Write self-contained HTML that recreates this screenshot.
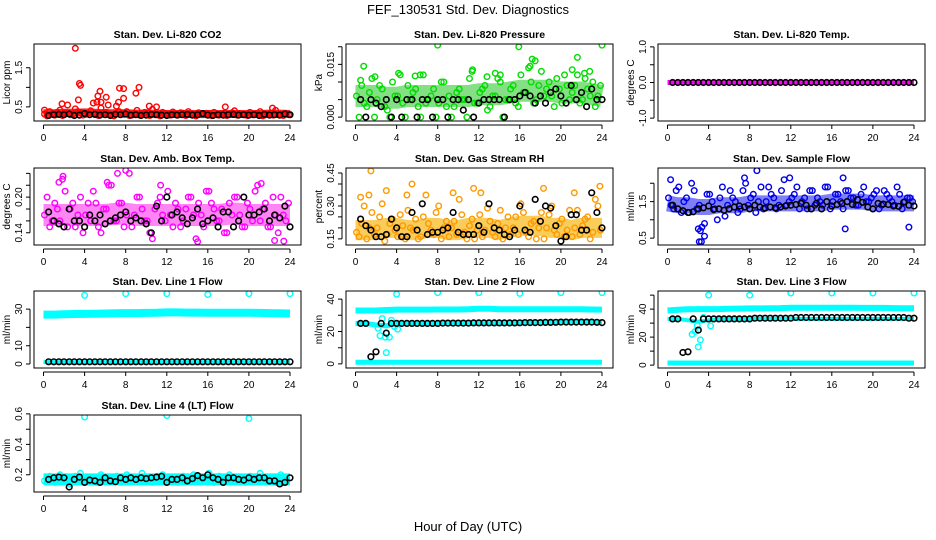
<!DOCTYPE html>
<html><head><meta charset="utf-8">
<style>
html,body{margin:0;padding:0;background:#fff;}
svg{display:block;font-family:"Liberation Sans",Arial,sans-serif;}
</style></head>
<body>
<svg id="chart" width="936" height="540" viewBox="0 0 936 540">
<text x="468" y="14" text-anchor="middle" font-size="13">FEF_130531  Std. Dev. Diagnostics</text>
<text x="468" y="531" text-anchor="middle" font-size="13">Hour of Day (UTC)</text>
</svg>
<script>
// ---- shared hour arrays ----
const hoursA = [0.1,0.6,1.1,1.6,2.1,2.6,3.1,3.6,4.1,4.6,5.1,5.6,6.1,6.6,7.1,7.6,8.1,8.6,9.1,9.6,10.1,10.6,11.1,11.6,12.1,12.6,13.1,13.6,14.1,14.6,15.1,15.6,16.1,16.6,17.1,17.6,18.1,18.6,19.1,19.6,20.1,20.6,21.1,21.6,22.1,22.6,23.1,23.6];
const hoursB = [0.35,0.85,1.35,1.85,2.35,2.85,3.35,3.85,4.35,4.85,5.35,5.85,6.35,6.85,7.35,7.85,8.35,8.85,9.35,9.85,10.35,10.85,11.35,11.85,12.35,12.85,13.35,13.85,14.35,14.85,15.35,15.85,16.35,16.85,17.35,17.85,18.35,18.85,19.35,19.85,20.35,20.85,21.35,21.85,22.35,22.85,23.35,23.85];
const hoursK = [0.5,1,1.5,2,2.5,3,3.5,4,4.5,5,5.5,6,6.5,7,7.5,8,8.5,9,9.5,10,10.5,11,11.5,12,12.5,13,13.5,14,14.5,15,15.5,16,16.5,17,17.5,18,18.5,19,19.5,20,20.5,21,21.5,22,22.5,23,23.5,24];
const hoursBand = [0,1,2,3,4,5,6,7,8,9,10,11,12,13,14,15,16,17,18,19,20,21,22,23,24];
const xTicks = [0,4,8,12,16,20,24];

// ---- CO2 ----
const co2A = [0.32,0.38,0.29,0.42,0.35,0.3,0.45,0.36,0.31,0.4,0.33,0.47,0.36,0.3,0.52,0.34,0.38,0.29,0.41,0.33,0.35,0.44,0.3,0.36,0.32,0.37,0.29,0.34,0.38,0.31,0.35,0.3,0.33,0.36,0.29,0.34,0.31,0.4,0.33,0.3,0.36,0.32,0.38,0.3,0.34,0.41,0.31,0.33];
const co2B = [0.27,0.33,0.36,0.28,0.55,0.31,0.38,0.29,0.34,0.6,0.28,0.35,0.3,0.27,0.38,0.31,0.28,0.33,0.29,0.36,0.28,0.3,0.27,0.33,0.29,0.31,0.35,0.28,0.32,0.27,0.3,0.34,0.28,0.3,0.32,0.28,0.35,0.29,0.31,0.28,0.3,0.33,0.27,0.32,0.29,0.3,0.28,0.3];
const co2K = [0.28,0.3,0.31,0.3,0.32,0.28,0.29,0.33,0.3,0.31,0.29,0.3,0.28,0.31,0.3,0.32,0.29,0.3,0.28,0.29,0.31,0.3,0.29,0.28,0.3,0.29,0.3,0.31,0.29,0.3,0.33,0.29,0.28,0.3,0.29,0.3,0.31,0.29,0.3,0.29,0.3,0.28,0.31,0.29,0.3,0.29,0.32,0.3];
const co2Band = [0.34,0.34,0.35,0.35,0.36,0.35,0.34,0.34,0.34,0.33,0.33,0.33,0.32,0.32,0.32,0.32,0.32,0.32,0.32,0.32,0.32,0.32,0.33,0.33,0.32];
const co2OutX = [3.1,3.5,3.6,3.4,5.3,5.5,5.2,5.6,6.1,6.3,7.4,7.8,7.8,7.3,9.0,9.3,10.3,11.0,1.8,17.7,22.3,0.1];
const co2OutY = [2.0,1.1,1.05,0.68,0.78,0.9,0.62,0.62,0.75,0.55,0.98,0.97,0.72,0.62,0.85,1.0,0.52,0.5,0.58,0.5,0.47,0.42];

// ---- Pressure ----
const prA = [0.006,0.009,0.003,0.011,0.005,0.008,0.002,0.01,0.006,0.004,0.009,0.007,0.003,0.012,0.005,0.008,0.004,0.01,0.006,0.003,0.008,0.005,0.011,0.004,0.007,0.009,0.003,0.006,0.01,0.005,0.008,0.004,0.012,0.007,0.01,0.005,0.013,0.008,0.006,0.011,0.004,0.009,0.007,0.012,0.005,0.008,0.01,0.006];
const prB = [0,0.004,0.007,0,0.009,0.003,0,0.006,0.012,0,0.005,0.008,0,0.004,0.006,0,0.01,0.003,0,0.007,0.005,0,0.013,0.004,0.008,0.002,0.006,0.011,0,0.005,0.009,0.003,0.007,0.014,0.004,0.009,0.006,0.01,0.003,0.008,0.012,0.005,0.009,0.004,0.011,0.006,0.003,0.009];
const prK = [0.005,0,0.005,0.004,0.003,0.005,0,0.005,0,0.005,0.005,0,0.005,0.005,0,0.005,0.005,0,0.005,0.005,0.002,0.005,0,0.004,0.005,0.005,0.005,0.005,0,0.005,0.005,0.006,0.007,0.006,0.004,0.006,0.004,0.007,0.008,0.006,0.004,0.009,0.005,0.007,0.003,0.008,0.005,0.005];
const prBand = [0.006,0.006,0.006,0.0055,0.0055,0.006,0.006,0.006,0.006,0.006,0.006,0.006,0.0065,0.0065,0.0065,0.007,0.0075,0.0075,0.0075,0.0075,0.007,0.007,0.007,0.0065,0.006];
const prOutX = [0.8,0.5,1.9,4.2,5.8,6.3,8,11.4,12.8,13.6,14.1,15.9,17.0,17.2,17.5,21.1,21.6,22.3,22.8,24];
const prOutY = [0.0145,0.0105,0.0115,0.0125,0.0117,0.012,0.0205,0.0135,0.0115,0.0125,0.012,0.02,0.0145,0.0165,0.016,0.0135,0.017,0.0125,0.013,0.0205];

// ---- Li-820 Temp ----
const tmpK = [0,0,0,0,0,0,0,0,0,0,0,0,0,0,0,0,0,0,0,0,0,0,0,0,0,0,0,0,0,0,0,0,0,0,0,0,0,0,0,0,0,0,0,0,0,0,0,0];
const tmpBand = [0,0,0,0,0,0,0,0,0,0,0,0,0,0,0,0,0,0,0,0,0,0,0,0,0];

// ---- Amb Box Temp ----
const ambA = [0.17,0.15,0.19,0.16,0.21,0.18,0.15,0.2,0.17,0.16,0.19,0.14,0.18,0.22,0.16,0.19,0.17,0.15,0.2,0.18,0.16,0.13,0.19,0.17,0.21,0.15,0.18,0.16,0.2,0.17,0.19,0.15,0.21,0.18,0.16,0.14,0.19,0.2,0.17,0.15,0.18,0.21,0.16,0.19,0.15,0.17,0.2,0.16];
const ambB = [0.2,0.16,0.18,0.23,0.15,0.19,0.17,0.14,0.19,0.21,0.15,0.18,0.22,0.16,0.19,0.15,0.24,0.17,0.2,0.16,0.14,0.18,0.2,0.16,0.17,0.19,0.15,0.18,0.2,0.13,0.17,0.21,0.19,0.16,0.18,0.14,0.17,0.2,0.15,0.19,0.16,0.22,0.18,0.15,0.2,0.14,0.17,0.19];
const ambK = [0.175,0.16,0.155,0.15,0.18,0.16,0.16,0.15,0.17,0.16,0.17,0.155,0.16,0.165,0.17,0.175,0.16,0.165,0.16,0.155,0.14,0.185,0.16,0.2,0.17,0.175,0.165,0.155,0.165,0.18,0.155,0.16,0.165,0.15,0.175,0.175,0.15,0.16,0.2,0.17,0.17,0.175,0.18,0.16,0.17,0.165,0.185,0.15];
const ambBand = [0.17,0.17,0.17,0.17,0.17,0.17,0.17,0.172,0.172,0.17,0.17,0.17,0.17,0.17,0.17,0.17,0.17,0.17,0.172,0.172,0.17,0.17,0.17,0.17,0.17];
const ambOutX = [1.9,8,7.2,15,22.5,23.4,21.2,1.5,6.2,11.4];
const ambOutY = [0.235,0.245,0.24,0.125,0.127,0.126,0.223,0.225,0.225,0.22];

// ---- Gas Stream RH ----
const rhA = [0.18,0.22,0.15,0.27,0.2,0.31,0.17,0.24,0.16,0.21,0.28,0.19,0.15,0.25,0.22,0.17,0.3,0.2,0.16,0.23,0.33,0.18,0.21,0.15,0.26,0.19,0.23,0.16,0.28,0.2,0.17,0.25,0.31,0.18,0.22,0.15,0.27,0.2,0.3,0.17,0.24,0.19,0.16,0.28,0.21,0.25,0.18,0.3];
const rhB = [0.16,0.3,0.2,0.17,0.25,0.14,0.22,0.19,0.26,0.15,0.2,0.24,0.16,0.35,0.19,0.27,0.15,0.23,0.2,0.17,0.26,0.15,0.24,0.19,0.16,0.29,0.18,0.22,0.15,0.25,0.2,0.17,0.27,0.16,0.23,0.2,0.15,0.26,0.19,0.22,0.16,0.28,0.2,0.17,0.24,0.15,0.33,0.19];
const rhK = [0.24,0.21,0.19,0.16,0.16,0.17,0.24,0.2,0.16,0.16,0.27,0.19,0.31,0.17,0.18,0.18,0.19,0.2,0.27,0.18,0.17,0.17,0.17,0.21,0.18,0.31,0.2,0.19,0.17,0.16,0.19,0.3,0.19,0.18,0.33,0.23,0.3,0.29,0.21,0.14,0.16,0.26,0.26,0.19,0.19,0.36,0.27,0.2];
const rhBand = [0.19,0.19,0.19,0.2,0.2,0.19,0.19,0.2,0.2,0.19,0.19,0.2,0.2,0.2,0.19,0.2,0.21,0.21,0.21,0.2,0.2,0.19,0.2,0.2,0.2];
const rhOutX = [1.5,1.3,0.5,5.5,5.0,9.5,11.5,12.2,18.3,21.3,23.8,3.0];
const rhOutY = [0.46,0.35,0.34,0.4,0.35,0.36,0.38,0.36,0.38,0.36,0.39,0.37];

// ---- Sample Flow ----
const sfA = [1.6,1.3,1.9,1.5,1.2,1.8,1.4,0.9,1.7,1.3,1.6,1.1,1.8,1.5,1.3,2.0,1.6,1.2,1.9,1.5,1.7,1.3,1.8,1.4,1.6,1.9,1.5,1.3,1.8,1.6,1.4,1.9,1.5,1.7,1.3,1.8,1.6,1.4,1.9,1.5,1.7,1.3,1.8,1.6,1.4,1.7,1.5,1.6];
const sfB = [1.4,1.8,1.2,1.6,2.0,1.3,0.8,1.7,1.5,1.0,1.9,1.4,1.6,1.2,1.8,1.4,1.7,1.5,1.3,1.9,1.6,1.4,2.1,1.5,1.7,1.3,1.6,1.8,1.4,1.5,1.9,1.3,1.7,1.5,1.8,1.6,1.4,1.7,1.5,1.6,1.8,1.4,1.7,1.5,1.9,1.3,1.6,1.5];
const sfK = [1.4,1.3,1.25,1.2,1.22,1.3,1.33,1.38,1.28,1.3,1.26,1.3,1.35,1.38,1.35,1.3,1.4,1.35,1.32,1.35,1.33,1.35,1.38,1.4,1.42,1.45,1.4,1.3,1.45,1.3,1.5,1.38,1.42,1.45,1.5,1.42,1.55,1.48,1.35,1.3,1.45,1.43,1.42,1.38,1.37,1.48,1.4,1.38];
const sfBand = [1.45,1.4,1.4,1.35,1.35,1.4,1.4,1.4,1.45,1.45,1.45,1.45,1.45,1.45,1.45,1.45,1.5,1.5,1.5,1.5,1.45,1.45,1.45,1.45,1.45];
const sfOutX = [3.1,3.3,3.0,3.2,3.6,8.7,7.5,11.9,17.1,17.3,23.5,0.3];
const sfOutY = [0.4,0.4,0.75,0.7,0.55,2.35,2.15,2.15,2.15,0.75,0.8,2.1];

// ---- Line 1 ----
const l1BandHi = [27,27,27.2,27.3,27.4,27.5,27.6,27.7,27.8,27.8,27.9,28,28.2,28.2,28.1,28.1,28,28,28,28,28,27.9,27.8,27.7,27.6];
const l1BandLo = [1,1,1,1,1,1,1,1,1,1,1,1,1,1,1,1,1,1,1,1,1,1,1,1,1];
const l1K = [1.2,1.2,1.2,1.2,1.2,1.2,1.2,1.2,1.2,1.2,1.2,1.2,1.2,1.2,1.2,1.2,1.2,1.2,1.2,1.2,1.2,1.2,1.2,1.2,1.2,1.2,1.2,1.2,1.2,1.2,1.2,1.2,1.2,1.2,1.2,1.2,1.2,1.2,1.2,1.2,1.2,1.2,1.2,1.2,1.2,1.2,1.2,1.2];
const l1OutX = [4,8,12,16,20,24];
const l1OutY = [37.5,38.5,38.5,38,38.5,38.5];

// ---- Line 2 ----
const l2BandHi = [33,33,33,33.3,33.5,33.5,33.5,33.5,33.6,33.6,33.6,33.7,34,34,33.8,33.7,33.8,33.8,33.8,33.8,33.8,33.8,33.7,33.6,33.5];
const l2BandMid = [25,25,24,23.5,25,25,25,25,25,25,25,25,25.3,25.3,25.3,25.4,25.5,25.5,25.6,25.8,26,26,26,26,25.8];
const l2BandLo = [1,1,1,1,1,1,1,1,1,1,1,1,1,1,1,1,1,1,1,1,1,1,1,1,1];
const l2K = [25,25,4.5,7.5,25,19,25,25,25,25,25,25,25,25,25,25,25.2,25.2,25.2,25.2,25.2,25.2,25.3,25.3,25.3,25.3,25.3,25.3,25.3,25.3,25.3,25.4,25.5,25.5,25.5,25.5,25.6,25.6,25.7,25.8,25.8,25.8,25.8,25.8,25.8,25.8,25.7,25.5];
const l2OutX = [2.4,2.6,2.9,3.0,3.3,3.5,4.1,2.2,3.8,4,8,12,16,20,24];
const l2OutY = [17.5,28,16.5,7,16.5,27,21.5,22,23,43,44,44,43.5,44,44];

// ---- Line 3 ----
const l3BandHi = [39,39.5,39.8,40,40,40,40.2,40.3,40.5,40.5,40.6,40.7,41,41,41,41,41,41,41,40.8,40.8,40.8,40.7,40.6,40.6];
const l3BandMid = [33,33,32,31,32,33,33,33,33,33,33,33,33,33,33,33,33,33,33,33,33,33,33,33,33];
const l3BandLo = [1.5,1.5,1.5,1.5,1.5,1.5,1.5,1.5,1.5,1.5,1.5,1.5,1.5,1.5,1.5,1.5,1.5,1.5,1.5,1.5,1.5,1.5,1.5,1.5,1.5];
const l3K = [33,33,9,9.5,33,25,33,33,33,33,33,33,33,33,33,33,33.5,33.5,33.5,33.5,33.5,33.5,33.5,33.5,34,34,34,34,34,34,34,34,34,34,34,34,34,34,34,34,34,34,34,34,34,34,33.5,33.5];
const l3OutX = [2.4,2.7,3.0,3.2,2.9,3.5,4.2,4,8,12,16,20,24];
const l3OutY = [22,24,13,18,28,34,28,50,50,51.5,51.5,51.5,51.5];

// ---- Line 4 ----
const l4A = [0.16,0.19,0.15,0.2,0.17,0.14,0.19,0.21,0.16,0.18,0.15,0.2,0.17,0.16,0.19,0.15,0.2,0.18,0.16,0.21,0.17,0.15,0.19,0.2,0.16,0.18,0.15,0.19,0.17,0.2,0.16,0.18,0.21,0.15,0.19,0.17,0.2,0.16,0.18,0.15,0.19,0.17,0.21,0.16,0.18,0.15,0.2,0.17];
const l4K = [0.17,0.18,0.185,0.18,0.12,0.17,0.185,0.15,0.165,0.16,0.15,0.18,0.16,0.155,0.18,0.17,0.18,0.17,0.18,0.175,0.18,0.185,0.19,0.15,0.17,0.17,0.18,0.16,0.175,0.195,0.18,0.2,0.18,0.17,0.15,0.18,0.18,0.17,0.165,0.18,0.17,0.18,0.18,0.16,0.16,0.14,0.15,0.18];
const l4Band = [0.17,0.17,0.17,0.17,0.17,0.17,0.17,0.17,0.17,0.17,0.17,0.17,0.17,0.17,0.17,0.17,0.17,0.17,0.17,0.17,0.17,0.17,0.17,0.17,0.17];
const l4OutX = [4,12,20];
const l4OutY = [0.58,0.59,0.57];

// ---- panel definitions ----
const panels = [
 {name:'co2', title:'Stan. Dev. Li-820 CO2', ylab:'Licor ppm', col:0,row:0, ymin:0.14, ymax:2.11, ticks:[0.5,1.0,1.5], labs:[0.5,1.5], fmt:1, color:'#ff0000', bandColor:'#ff0000', bandOp:0.85,
  bands:[[co2Band,8]], pts:[[hoursA,co2A],[hoursB,co2B],[co2OutX,co2OutY]], blk:co2K},
 {name:'pressure', title:'Stan. Dev. Li-820 Pressure', ylab:'kPa', col:1,row:0, ymin:-0.0011, ymax:0.0208, ticks:[0,0.005,0.01,0.015,0.02], labs:[0,0.015], fmt:3, color:'#00dd00', bandColor:'#33cc33', bandOp:0.6,
  bands:[[prBand,22]], pts:[[hoursA,prA],[hoursB,prB],[prOutX,prOutY]], blk:prK},
 {name:'li820-temp', title:'Stan. Dev. Li-820 Temp.', ylab:'degrees C', col:2,row:0, ymin:-1.08, ymax:1.08, ticks:[-1,-0.5,0,0.5,1], labs:[-1,0,1], fmt:1, color:'#ff00ff', bandColor:'#ff00ff', bandOp:1,
  bands:[[tmpBand,5]], pts:[], blk:tmpK},
 {name:'amb-box-temp', title:'Stan. Dev. Amb. Box Temp.', ylab:'degrees C', col:0,row:1, ymin:0.1195, ymax:0.249, ticks:[0.14,0.16,0.18,0.2,0.22,0.24], labs:[0.14,0.2], fmt:2, color:'#ff00ff', bandColor:'#ff33ee', bandOp:0.6,
  bands:[[ambBand,22]], pts:[[hoursA,ambA],[hoursB,ambB],[ambOutX,ambOutY]], blk:ambK},
 {name:'gas-stream-rh', title:'Stan. Dev. Gas Stream RH', ylab:'percent', col:1,row:1, ymin:0.122, ymax:0.473, ticks:[0.15,0.2,0.25,0.3,0.35,0.4,0.45], labs:[0.15,0.3,0.45], fmt:2, color:'#ff9900', bandColor:'#f7b000', bandOp:0.65,
  bands:[[rhBand,20]], pts:[[hoursA,rhA],[hoursB,rhB],[rhOutX,rhOutY]], blk:rhK},
 {name:'sample-flow', title:'Stan. Dev. Sample Flow', ylab:'ml/min', col:2,row:1, ymin:0.31, ymax:2.42, ticks:[0.5,1,1.5,2], labs:[0.5,1.5], fmt:1, color:'#0000ee', bandColor:'#2a2aee', bandOp:0.6,
  bands:[[sfBand,16]], pts:[[hoursA,sfA],[hoursB,sfB],[sfOutX,sfOutY]], blk:sfK},
 {name:'line1-flow', title:'Stan. Dev. Line 1 Flow', ylab:'ml/min', col:0,row:2, ymin:-2.2, ymax:39.9, ticks:[0,10,20,30], labs:[0,10,30], fmt:0, color:'#00ffff', bandColor:'#00ffff', bandOp:1,
  bands:[[l1BandHi,8],[l1BandLo,4]], pts:[[l1OutX,l1OutY]], blk:l1K},
 {name:'line2-flow', title:'Stan. Dev. Line 2 Flow', ylab:'ml/min', col:1,row:2, ymin:-2.5, ymax:45, ticks:[0,10,20,30,40], labs:[0,20,40], fmt:0, color:'#00ffff', bandColor:'#00ffff', bandOp:1,
  bands:[[l2BandHi,6],[l2BandMid,5],[l2BandLo,5]], pts:[[l2OutX,l2OutY]], blk:l2K},
 {name:'line3-flow', title:'Stan. Dev. Line 3 Flow', ylab:'ml/min', col:2,row:2, ymin:-2.1, ymax:52.9, ticks:[0,10,20,30,40,50], labs:[0,20,40], fmt:0, color:'#00ffff', bandColor:'#00ffff', bandOp:1,
  bands:[[l3BandHi,6],[l3BandMid,4],[l3BandLo,5]], pts:[[l3OutX,l3OutY]], blk:l3K},
 {name:'line4-flow', title:'Stan. Dev. Line 4 (LT) Flow', ylab:'ml/min', col:0,row:3, ymin:0.087, ymax:0.593, ticks:[0.2,0.3,0.4,0.5,0.6], labs:[0.2,0.4,0.6], fmt:1, color:'#00ffff', bandColor:'#00ffff', bandOp:1,
  bands:[[l4Band,12]], pts:[[hoursA,l4A],[l4OutX,l4OutY]], blk:l4K}
];

const NS='http://www.w3.org/2000/svg';
const svg=document.getElementById('chart');
function mk(tag,attrs,parent){const e=document.createElementNS(NS,tag);for(const k in attrs)e.setAttribute(k,attrs[k]);parent.appendChild(e);return e;}
const colLeft=[34,346,658], rowTop=[44,168,291,415], BW=267, BH=77;

panels.forEach(p=>{
  const L=colLeft[p.col], T=rowTop[p.row], R=L+BW, B=T+BH;
  const x0=L+9.5, x1=R-11;
  const xs=h=>x0+(h/24)*(x1-x0);
  const ys=v=>B-(v-p.ymin)/(p.ymax-p.ymin)*BH;
  const g=mk('g',{},svg);
  
  
  const clipId='clip-'+p.name;
  const cp=mk('clipPath',{id:clipId},g); mk('rect',{x:L,y:T,width:BW,height:BH},cp);
  const plot=mk('g',{'clip-path':'url(#'+clipId+')'},g);
  
  
  p.bands.forEach(([vals,w])=>{
    const d=vals.map((v,i)=>(i?'L':'M')+xs(hoursBand[i]).toFixed(1)+' '+ys(v).toFixed(1)).join(' ');
    const pl=mk('path',{d:d,fill:'none',stroke:p.bandColor,'stroke-opacity':p.bandOp,'stroke-width':w,'stroke-linecap':'butt','stroke-linejoin':'round'},plot);
    
    
  });
  p.pts.forEach(([hx,vy])=>{
    vy.forEach((v,i)=>{
      const c=mk('circle',{cx:xs(hx[i]).toFixed(1),cy:ys(v).toFixed(1),r:2.8,fill:'none',stroke:p.color,'stroke-width':1.4},plot);
      
      
    });
  });
  p.blk.forEach((v,i)=>{
    const c=mk('circle',{cx:xs(hoursK[i]).toFixed(1),cy:ys(v).toFixed(1),r:2.8,fill:'none',stroke:'#000','stroke-width':1.6},plot);
    
    
  });
  const box=mk('rect',{x:L,y:T,width:BW,height:BH,fill:'none',stroke:'#000','stroke-width':1},g);
  
  
  const t=mk('text',{x:(L+R)/2,y:T-6,'text-anchor':'middle','font-size':10.5,'font-weight':'bold'},g);
  t.textContent=p.title;
  
  
  const ax=mk('path',{d:'M'+xs(0)+' '+(B+4)+' H'+xs(24)+' '+xTicks.map(h=>'M'+xs(h).toFixed(1)+' '+(B+4)+' v4').join(' '),stroke:'#000','stroke-width':1,fill:'none'},g);
  
  
  xTicks.forEach(h=>{
    const tx=mk('text',{x:xs(h).toFixed(1),y:B+20,'text-anchor':'middle','font-size':10},g);
    tx.textContent=h;
    
    
  });
  const ay=mk('path',{d:'M'+(L-4)+' '+ys(p.ticks[0]).toFixed(1)+' V'+ys(p.ticks[p.ticks.length-1]).toFixed(1)+' '+p.ticks.map(v=>'M'+(L-4)+' '+ys(v).toFixed(1)+' h-4').join(' '),stroke:'#000','stroke-width':1,fill:'none'},g);
  
  
  p.labs.forEach(v=>{
    const yy=ys(v);
    const ty=mk('text',{x:L-12,y:yy,'text-anchor':'middle','font-size':10,transform:'rotate(-90 '+(L-12)+' '+yy.toFixed(1)+')'},g);
    ty.textContent=v.toFixed(p.fmt);
    
    
  });
  const yt=mk('text',{x:L-24,y:(T+B)/2,'text-anchor':'middle','font-size':10,transform:'rotate(-90 '+(L-24)+' '+((T+B)/2)+')'},g);
  yt.textContent=p.ylab;
  
  
});
</script>
</body></html>
